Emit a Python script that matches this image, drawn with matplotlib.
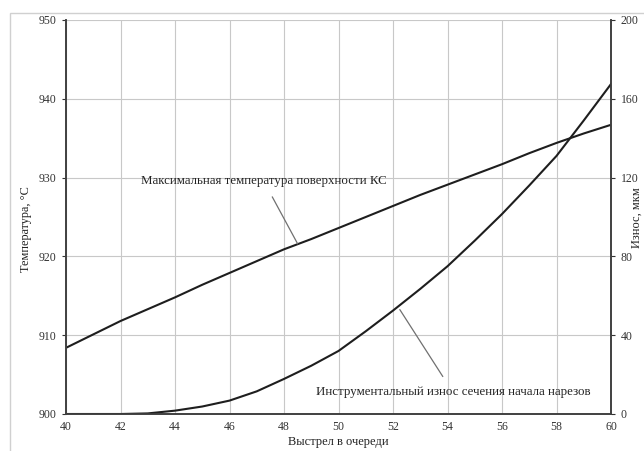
import matplotlib
matplotlib.use('Agg')
import matplotlib.pyplot as plt
from matplotlib.patches import Rectangle

plt.rcParams['font.family'] = ['Liberation Serif', 'DejaVu Serif']

# данные
shots = [40, 41, 42, 43, 44, 45, 46, 47, 48, 49, 50, 51, 52, 53, 54, 55, 56, 57, 58, 59, 60]
temp = [908.4, 910.1, 911.8, 913.3, 914.8, 916.4, 917.9, 919.4, 920.9, 922.2, 923.6, 925.0, 926.4, 927.8, 929.1, 930.4, 931.7, 933.1, 934.4, 935.6, 936.7]
wear = [0, 0, 0, 0.3, 1.7, 3.8, 6.8, 11.5, 17.8, 24.5, 32, 42, 52.5, 63.5, 75, 88, 101.5, 116, 131, 149, 167.5]

x_ticks = list(range(40, 61, 2))
t_ticks = list(range(900, 951, 10))
w_ticks = list(range(0, 201, 40))

fig = plt.figure(figsize=(6.44, 4.51), dpi=100)
fig.patches.append(Rectangle((10 / 644, -0.1), 1.2, (451 - 13) / 451 + 0.1,
                             transform=fig.transFigure, fill=False,
                             edgecolor='#d0d0d0', linewidth=1.0))

ax = fig.add_axes([66 / 644, 37 / 451, 545 / 644, 394 / 451])
ax2 = ax.twinx()

ax.plot(shots, temp, color='#1e1e1e', linewidth=1.5)
ax2.plot(shots, wear, color='#1e1e1e', linewidth=1.5)

ax.set_xlim(40, 60)
ax.set_ylim(900, 950)
ax2.set_ylim(0, 200)
ax.set_xticks(x_ticks)
ax.set_yticks(t_ticks)
ax2.set_yticks(w_ticks)

ax.grid(True, color='#c8c8c8', linewidth=0.8)
ax.set_axisbelow(True)

for a in (ax, ax2):
    a.spines['top'].set_visible(False)
    for s in ('left', 'right', 'bottom'):
        a.spines[s].set_color('#404040')
        a.spines[s].set_linewidth(1.2)
    a.tick_params(labelsize=8.5, colors='#333333', length=3, width=0.8)
ax.tick_params(axis='x', length=0, pad=5)
ax.tick_params(axis='y', pad=4)
ax2.tick_params(axis='y', pad=4)

ax.set_xlabel('Выстрел в очереди', fontsize=9, color='#222222', labelpad=2)
fig.text(26 / 644, 1 - 229 / 451, 'Температура, °С', rotation=90,
         fontsize=8.8, color='#222222', ha='center', va='center')
fig.text(631 / 644, 1 - 218 / 451, 'Износ, мкм', rotation=90,
         fontsize=9, color='#222222', ha='left', va='center')

ax.annotate('Максимальная температура поверхности КС', xy=(48.5, 921.6),
            xytext=(47.25, 929.6), fontsize=9.3, color='#222222',
            ha='center', va='center',
            arrowprops=dict(arrowstyle='-', color='#707070', linewidth=0.9,
                            shrinkA=6, shrinkB=0))
ax2.annotate('Инструментальный износ сечения начала нарезов', xy=(52.25, 53),
             xytext=(54.2, 11), fontsize=9.3, color='#222222',
             ha='center', va='center',
             arrowprops=dict(arrowstyle='-', color='#707070', linewidth=0.9,
                             shrinkA=6, shrinkB=0))

fig.savefig('out.png', dpi=100)
